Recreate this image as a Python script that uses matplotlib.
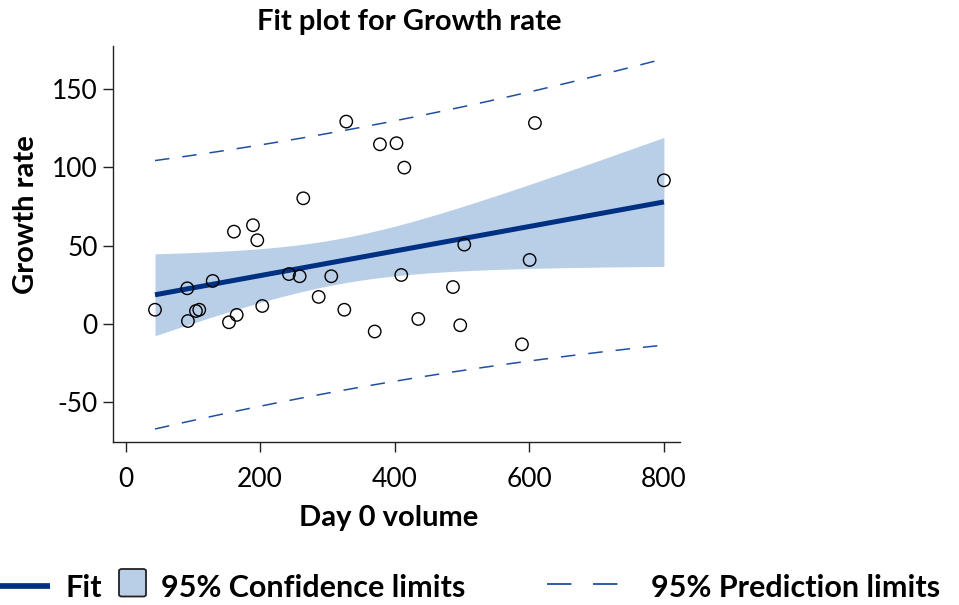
import numpy as np
import matplotlib
matplotlib.use('Agg')
import matplotlib.pyplot as plt
from matplotlib.lines import Line2D
from matplotlib.patches import FancyBboxPatch

plt.rcParams['font.family'] = ['Lato', 'DejaVu Sans']
plt.rcParams['axes.unicode_minus'] = False

day0_volume = np.array([43.6, 91.6, 92.6, 104.5, 109.4, 129.4, 153.6, 161.0, 165.1, 189.3,
                        195.7, 203.1, 242.8, 258.7, 264.1, 287.0, 305.7, 325.1, 328.0, 370.3,
                        378.1, 402.7, 414.3, 409.8, 435.1, 486.7, 497.5, 503.5, 589.3, 600.7,
                        608.6, 800.4])
growth_rate = np.array([9.1, 22.8, 1.9, 8.3, 9.1, 27.5, 1.1, 59.0, 5.8, 63.1,
                        53.5, 11.5, 31.9, 30.5, 80.3, 17.3, 30.5, 9.1, 129.3, -4.8,
                        114.8, 115.5, 99.9, 31.3, 3.2, 23.6, -0.8, 50.7, -13.0, 40.9,
                        128.4, 91.8])
xticks = [0, 200, 400, 600, 800]
yticks = [-50, 0, 50, 100, 150]

# simple linear regression with 95% confidence / prediction limits
n = len(day0_volume)
b1, b0 = np.polyfit(day0_volume, growth_rate, 1)
resid = growth_rate - (b0 + b1 * day0_volume)
s = np.sqrt(np.sum(resid ** 2) / (n - 2))
t = 2.0423  # t(0.975, df=30)
xm = day0_volume.mean()
sxx = np.sum((day0_volume - xm) ** 2)
xs = np.linspace(day0_volume.min(), day0_volume.max(), 200)
fit = b0 + b1 * xs
se_mean = s * np.sqrt(1.0 / n + (xs - xm) ** 2 / sxx)
se_pred = s * np.sqrt(1.0 + 1.0 / n + (xs - xm) ** 2 / sxx)

navy = '#003082'
band = '#b9cfe8'
dash_c = '#1f4f9e'

fig = plt.figure(figsize=(9.59, 6.05), dpi=100)
ax = fig.add_axes([0.1178, 0.2694, 0.5912, 0.6551])

ax.fill_between(xs, fit - t * se_mean, fit + t * se_mean, color=band, lw=0, zorder=1)
ax.plot(xs, fit, c=navy, lw=3.6, zorder=2, solid_capstyle='butt')
ax.plot(xs, fit + t * se_pred, c=dash_c, lw=1.1, dashes=(9.5, 8.5), zorder=2)
ax.plot(xs, fit - t * se_pred, c=dash_c, lw=1.1, dashes=(9.5, 8.5), zorder=2)
ax.scatter(day0_volume, growth_rate, s=80, facecolors='none', edgecolors='black',
           linewidths=1.0, zorder=3)

ax.set_xlim(-18.9, 824.2)
ax.set_ylim(-75.4, 177.8)
ax.set_xticks(xticks)
ax.set_yticks(yticks)
ax.spines['top'].set_visible(False)
ax.spines['right'].set_visible(False)
for sp in ['left', 'bottom']:
    ax.spines[sp].set_linewidth(1.0)
    ax.spines[sp].set_color('#222222')
ax.tick_params(direction='out', length=7, width=1.0, color='#222222', labelsize=19)
ax.tick_params(axis='x', pad=11)
ax.tick_params(axis='y', pad=4)

fig.text(0.427, 0.963, 'Fit plot for Growth rate', ha='center', va='center',
         fontsize=21, fontweight='bold')
fig.text(0.405, 0.143, 'Day 0 volume', ha='center', va='center',
         fontsize=21, fontweight='bold')
fig.text(0.027, 0.645, 'Growth rate', ha='center', va='center', rotation=90,
         fontsize=21, fontweight='bold')

# legend row along the bottom
W, H = 959.0, 605.0
ly = 1 - 585.5 / H
base = 1 - 596.7 / H
fig.add_artist(Line2D([0 / W, 50 / W], [ly, ly], c=navy, lw=4.1,
                      solid_capstyle='butt', transform=fig.transFigure))
fig.text(65 / W, base, 'Fit', ha='left', va='baseline', fontsize=22, fontweight='bold')
fig.add_artist(FancyBboxPatch((119 / W, 1 - 596.5 / H), 27 / W, 27.5 / H,
                              boxstyle='round,pad=0,rounding_size=0.003',
                              facecolor=band, edgecolor='#222222', lw=1.3,
                              transform=fig.transFigure))
fig.text(161 / W, base, '95% Confidence limits', ha='left', va='baseline',
         fontsize=22, fontweight='bold')
fig.add_artist(Line2D([547 / W, 621 / W], [1 - 583.5 / H] * 2, c=dash_c, lw=1.3,
                      dashes=(13.5, 12), transform=fig.transFigure))
fig.text(651 / W, base, '95% Prediction limits', ha='left', va='baseline',
         fontsize=22, fontweight='bold')

fig.savefig('out.png', dpi=100)
